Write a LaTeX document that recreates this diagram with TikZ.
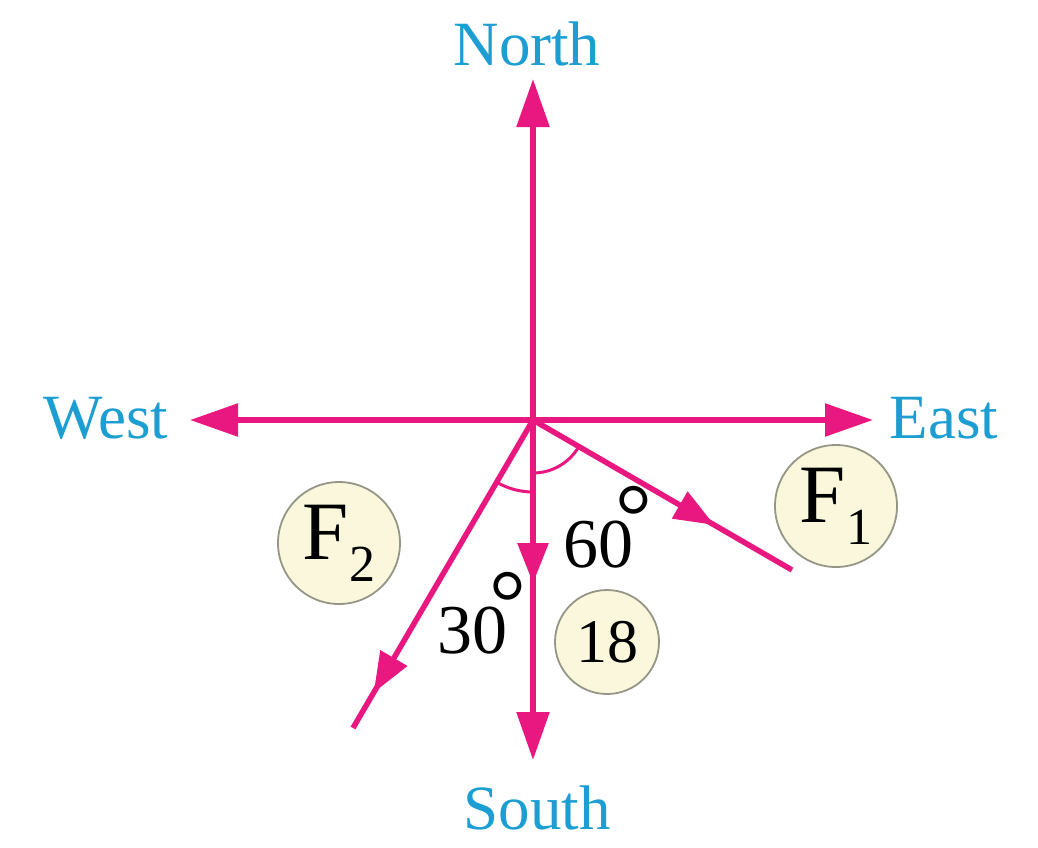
\documentclass[tikz,border=0pt]{standalone}
\usepackage{fontspec}
\setmainfont{Liberation Serif}
\usetikzlibrary{arrows.meta,decorations.markings}
\definecolor{vec}{RGB}{232,24,128}
\definecolor{dircol}{RGB}{28,158,210}
\definecolor{cream}{RGB}{250,247,220}
\definecolor{ring}{RGB}{150,150,135}
\begin{document}
\begin{tikzpicture}[x=1pt,y=-1pt,
  vecline/.style={draw=vec,color=vec,line width=5.5pt},
  endtip/.style={-{Triangle[length=48pt,width=32pt]}},
  midtip/.style={postaction=decorate,decoration={markings,mark=at position #1 with {\arrow{Triangle[length=40pt,width=30pt]}}}},
  dirlabel/.style={text=dircol,font=\fontsize{63}{63}\selectfont,inner sep=0pt},
  anglabel/.style={font=\fontsize{70}{70}\selectfont,inner sep=0pt,anchor=base west},
  tagcircle/.style={circle,draw=ring,fill=cream,line width=1.8pt,inner sep=0pt,minimum size=122pt},
  anglearc/.style={draw=vec,line width=3pt}
]
\useasboundingbox[fill=white] (0,0) rectangle (1038,847);

% labels
\node[dirlabel] (north) at (527,44) {North};
\node[dirlabel] (south) at (537,808) {South};
\node[dirlabel] (west) at (106,418) {West};
\node[dirlabel] (east) at (944,418) {East};

% points
\coordinate (O) at (533,420);
\coordinate (Ntip) at (533,79);
\coordinate (Stip) at (533,760);
\coordinate (Wtip) at (190,420);
\coordinate (Etip) at (873,420);
\coordinate (F1end) at (792,570);
\coordinate (F2end) at (353,728);

% angle arcs
\draw[anglearc] (O) ++(30:53) arc[start angle=30,end angle=90,radius=53];
\draw[anglearc] (O) ++(90:72) arc[start angle=90,end angle=120,radius=72];

% axes
\draw[vecline,endtip] (O) -- (Ntip);
\draw[vecline,endtip] (O) -- (Wtip);
\draw[vecline,endtip] (O) -- (Etip);
\draw[vecline,endtip,midtip=0.48] (O) -- (Stip);

% forces
\draw[vecline,midtip=0.7] (O) -- (F1end);
\draw[vecline,midtip=0.885] (O) -- (F2end);

% angle labels
\node[anglabel] (a60) at (563,567) {60\kern-18pt\raisebox{20pt}{\fontsize{92}{92}\selectfont °}};
\node[anglabel] (a30) at (437,653) {30\kern-18pt\raisebox{20pt}{\fontsize{92}{92}\selectfont °}};

% circled tags
\node[tagcircle] (f1) at (836,506) {\fontsize{83}{83}\selectfont F\raisebox{-22pt}{\fontsize{52}{52}\selectfont 1}};
\node[tagcircle] (f2) at (339,543) {\fontsize{83}{83}\selectfont F\raisebox{-22pt}{\fontsize{52}{52}\selectfont 2}};
\node[tagcircle,minimum size=104pt] (n18) at (607,642) {\fontsize{62}{62}\selectfont 18};
\end{tikzpicture}
\end{document}
